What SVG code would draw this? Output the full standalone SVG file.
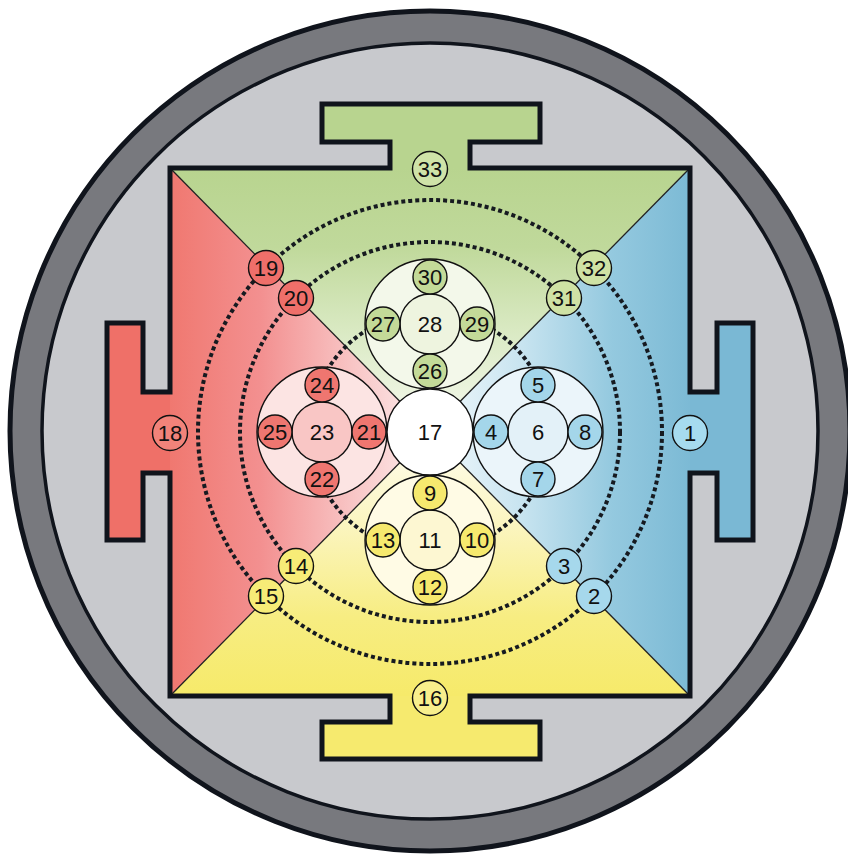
<svg xmlns="http://www.w3.org/2000/svg" width="848" height="864" viewBox="0 0 848 864">
<defs>
<linearGradient id="gTop" gradientUnits="userSpaceOnUse" x1="0" y1="168" x2="0" y2="432">
<stop offset="0" stop-color="#b8d48f"/><stop offset="0.3" stop-color="#c0d99b"/><stop offset="0.65" stop-color="#dcebc7"/><stop offset="1" stop-color="#f7faf0"/>
</linearGradient>
<linearGradient id="gRight" gradientUnits="userSpaceOnUse" x1="690" y1="0" x2="430" y2="0">
<stop offset="0" stop-color="#7cbad5"/><stop offset="0.3" stop-color="#94c9df"/><stop offset="0.65" stop-color="#c8e4f0"/><stop offset="1" stop-color="#f2f9fc"/>
</linearGradient>
<linearGradient id="gBottom" gradientUnits="userSpaceOnUse" x1="0" y1="696" x2="0" y2="432">
<stop offset="0" stop-color="#f6ea6a"/><stop offset="0.3" stop-color="#f7ed82"/><stop offset="0.65" stop-color="#fbf5c0"/><stop offset="1" stop-color="#fffdf0"/>
</linearGradient>
<linearGradient id="gLeft" gradientUnits="userSpaceOnUse" x1="170" y1="0" x2="430" y2="0">
<stop offset="0" stop-color="#f07870"/><stop offset="0.35" stop-color="#f39090"/><stop offset="0.7" stop-color="#f8c5c5"/><stop offset="1" stop-color="#fdeeee"/>
</linearGradient>
<style>
text{font-family:"Liberation Sans",Arial,sans-serif;font-size:22px;fill:#111;text-anchor:middle}
.c{stroke:#111;stroke-width:1.4}
.dot{fill:none;stroke:#161a20;stroke-width:4;stroke-dasharray:4 3}
.diag{stroke:#222;stroke-width:1.3}
.g{fill:#c3da98}.r{fill:#ef7670}.b{fill:#a4d6ea}.y{fill:#f6e96e}
</style>
</defs>
<g id="background">
<circle cx="430" cy="431" r="420" fill="#78797e" stroke="#10141c" stroke-width="5"/>
<circle cx="430" cy="431" r="388" fill="#c8c9cd" stroke="#10141c" stroke-width="3.5"/>
</g>
<g id="yantra">
<path d="M322,104 H540 V142 H470 V172 H390 V142 H322 Z" fill="#b8d48f"/>
<path d="M717,323 H753 V540 H717 V473 H686 V392 H717 Z" fill="#7ab8d4"/>
<path d="M322,759 H540 V722 H470 V692 H390 V722 H322 Z" fill="#f6ea6e"/>
<path d="M143,323 H107 V540 H143 V473 H174 V392 H143 Z" fill="#ef7068"/>
<path d="M170,168 H690 L430,432 Z" fill="url(#gTop)"/>
<path d="M690,168 V696 L430,432 Z" fill="url(#gRight)"/>
<path d="M690,696 H170 L430,432 Z" fill="url(#gBottom)"/>
<path d="M170,696 V168 L430,432 Z" fill="url(#gLeft)"/>
</g>
<g id="connectors">
<line class="diag" x1="170" y1="168" x2="430" y2="432"/>
<line class="diag" x1="690" y1="168" x2="430" y2="432"/>
<line class="diag" x1="690" y1="696" x2="430" y2="432"/>
<line class="diag" x1="170" y1="696" x2="430" y2="432"/>
<circle class="dot" cx="430" cy="432" r="120"/>
<circle class="dot" cx="430" cy="432" r="190"/>
<circle class="dot" cx="430" cy="432" r="232"/>
</g>
<path id="outline" d="M170,168 H390 V142 H322 V104 H540 V142 H470 V168 H690 V392 H717 V323 H753 V540 H717 V473 H690 V696 H470 V722 H540 V759 H322 V722 H390 V696 H170 V473 H143 V540 H107 V323 H143 V392 H170 Z" fill="none" stroke="#10141c" stroke-width="5" stroke-linejoin="miter"/>
<g id="cluster-top">
<circle class="c" cx="430" cy="324" r="65" fill="#f3f8ea"/>
<g id="n28"><circle class="c" cx="430" cy="324" r="30" fill="#eef4df"/><text x="430" y="332">28</text></g>
<g id="n30"><circle class="c g" cx="430" cy="277" r="17"/><text x="430" y="285">30</text></g>
<g id="n26"><circle class="c g" cx="430" cy="371" r="17"/><text x="430" y="379">26</text></g>
<g id="n27"><circle class="c g" cx="383" cy="324" r="17"/><text x="383" y="332">27</text></g>
<g id="n29"><circle class="c g" cx="477" cy="324" r="17"/><text x="477" y="332">29</text></g>
</g>
<g id="cluster-right">
<circle class="c" cx="538" cy="432" r="65" fill="#ebf5fa"/>
<g id="n6"><circle class="c" cx="538" cy="432" r="30" fill="#e3f1f8"/><text x="538" y="440">6</text></g>
<g id="n5"><circle class="c b" cx="538" cy="385" r="17"/><text x="538" y="393">5</text></g>
<g id="n7"><circle class="c b" cx="538" cy="479" r="17"/><text x="538" y="487">7</text></g>
<g id="n4"><circle class="c b" cx="491" cy="432" r="17"/><text x="491" y="440">4</text></g>
<g id="n8"><circle class="c b" cx="585" cy="432" r="17"/><text x="585" y="440">8</text></g>
</g>
<g id="cluster-bottom">
<circle class="c" cx="430" cy="540" r="65" fill="#fffbe5"/>
<g id="n11"><circle class="c" cx="430" cy="540" r="30" fill="#fdf7d2"/><text x="430" y="548">11</text></g>
<g id="n9"><circle class="c y" cx="430" cy="493" r="17"/><text x="430" y="501">9</text></g>
<g id="n12"><circle class="c y" cx="430" cy="587" r="17"/><text x="430" y="595">12</text></g>
<g id="n13"><circle class="c y" cx="383" cy="540" r="17"/><text x="383" y="548">13</text></g>
<g id="n10"><circle class="c y" cx="477" cy="540" r="17"/><text x="477" y="548">10</text></g>
</g>
<g id="cluster-left">
<circle class="c" cx="322" cy="432" r="65" fill="#fce4e3"/>
<g id="n23"><circle class="c" cx="322" cy="432" r="30" fill="#f9c6c5"/><text x="322" y="440">23</text></g>
<g id="n24"><circle class="c r" cx="322" cy="385" r="17"/><text x="322" y="393">24</text></g>
<g id="n22"><circle class="c r" cx="322" cy="479" r="17"/><text x="322" y="487">22</text></g>
<g id="n25"><circle class="c r" cx="275" cy="432" r="17"/><text x="275" y="440">25</text></g>
<g id="n21"><circle class="c r" cx="369" cy="432" r="17"/><text x="369" y="440">21</text></g>
</g>
<g id="n17"><circle class="c" cx="430" cy="432" r="43" fill="#ffffff"/><text x="430" y="440">17</text></g>
<g id="n31"><circle class="c" cx="564" cy="298" r="17.5" fill="#cfe2a4"/><text x="564" y="306">31</text></g>
<g id="n32"><circle class="c" cx="594" cy="268" r="17.5" fill="#cfe2a4"/><text x="594" y="276">32</text></g>
<g id="n3"><circle class="c" cx="564" cy="566" r="17.5" fill="#a6d8ec"/><text x="564" y="574">3</text></g>
<g id="n2"><circle class="c" cx="594" cy="596" r="17.5" fill="#a6d8ec"/><text x="594" y="604">2</text></g>
<g id="n14"><circle class="c" cx="296" cy="566" r="17.5" fill="#f7ec77"/><text x="296" y="574">14</text></g>
<g id="n15"><circle class="c" cx="266" cy="596" r="17.5" fill="#f7ec77"/><text x="266" y="604">15</text></g>
<g id="n20"><circle class="c" cx="296" cy="298" r="17.5" fill="#ef6f6a"/><text x="296" y="306">20</text></g>
<g id="n19"><circle class="c" cx="266" cy="268" r="17.5" fill="#ef6f6a"/><text x="266" y="276">19</text></g>
<g id="n33"><circle class="c" cx="430" cy="169" r="17.5" fill="#cfe3a8"/><text x="430" y="177">33</text></g>
<g id="n16"><circle class="c" cx="430" cy="698" r="17.5" fill="#f8ef8c"/><text x="430" y="706">16</text></g>
<g id="n18"><circle class="c" cx="170" cy="433" r="17.5" fill="#f2837a"/><text x="170" y="441">18</text></g>
<g id="n1"><circle class="c" cx="690" cy="433" r="17.5" fill="#a6dbef"/><text x="690" y="441">1</text></g>
</svg>
